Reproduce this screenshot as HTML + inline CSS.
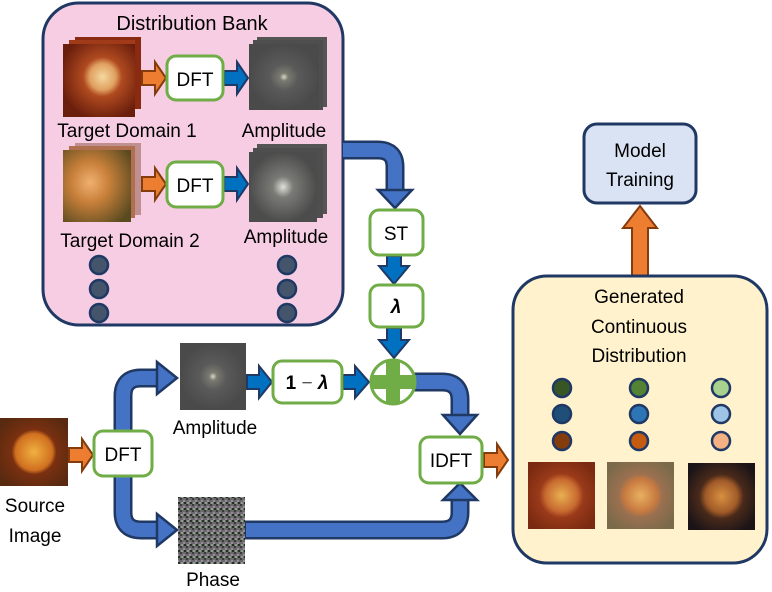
<!DOCTYPE html><html><head><style>body{margin:0;background:#fff}svg{display:block}text{font-family:"Liberation Sans",sans-serif;fill:#000}</style></head><body>
<svg width="772" height="592" viewBox="0 0 772 592" xmlns="http://www.w3.org/2000/svg">
<defs>
<radialGradient id="r1" cx="0.55" cy="0.45" r="0.6"><stop offset="0" stop-color="#f4d9a0"/><stop offset="0.3" stop-color="#e0a060"/><stop offset="0.45" stop-color="#b04a20"/><stop offset="1" stop-color="#6a1e0c"/></radialGradient>
<radialGradient id="r2" cx="0.4" cy="0.45" r="0.7"><stop offset="0" stop-color="#f0b070"/><stop offset="0.4" stop-color="#c8803a"/><stop offset="1" stop-color="#5a4a20"/></radialGradient>
<radialGradient id="src" cx="0.5" cy="0.5" r="0.6"><stop offset="0" stop-color="#f0b040"/><stop offset="0.45" stop-color="#d07020"/><stop offset="0.55" stop-color="#7a3010"/><stop offset="1" stop-color="#5a2a10"/></radialGradient>
<radialGradient id="g1" cx="0.5" cy="0.5" r="0.6"><stop offset="0" stop-color="#e8b050"/><stop offset="0.4" stop-color="#c86a30"/><stop offset="0.55" stop-color="#9a3a1a"/><stop offset="1" stop-color="#7a2a10"/></radialGradient>
<radialGradient id="g2" cx="0.5" cy="0.5" r="0.6"><stop offset="0" stop-color="#e8b060"/><stop offset="0.4" stop-color="#c87a40"/><stop offset="0.55" stop-color="#9a7050"/><stop offset="1" stop-color="#7a6a4a"/></radialGradient>
<radialGradient id="g3" cx="0.5" cy="0.5" r="0.6"><stop offset="0" stop-color="#d89040"/><stop offset="0.4" stop-color="#a05a28"/><stop offset="0.55" stop-color="#4a2a1a"/><stop offset="1" stop-color="#1a1418"/></radialGradient>
<radialGradient id="amp" cx="0.5" cy="0.5" r="0.5"><stop offset="0" stop-color="#d8d8c8"/><stop offset="0.12" stop-color="#7a7a70"/><stop offset="0.4" stop-color="#5a5a5a"/><stop offset="1" stop-color="#4a4a4a"/></radialGradient>
<radialGradient id="amp2" cx="0.5" cy="0.5" r="0.5"><stop offset="0" stop-color="#e0e0d8"/><stop offset="0.3" stop-color="#7a7a76"/><stop offset="1" stop-color="#4c4c4c"/></radialGradient>
<pattern id="noise" width="6" height="6" patternUnits="userSpaceOnUse"><rect width="6" height="6" fill="#6a6a6a"/><rect x="0" y="0" width="2" height="2" fill="#3a3a3a"/><rect x="3" y="2" width="2" height="2" fill="#9a8aa0"/><rect x="1" y="4" width="2" height="2" fill="#8aa08a"/><rect x="4" y="4" width="2" height="2" fill="#2a2a2a"/></pattern>
</defs>

<!-- Distribution bank -->
<rect x="43" y="3" width="300" height="322" rx="36" fill="#f6cde3" stroke="#1f3864" stroke-width="3"/>
<text x="192" y="30" font-size="20" text-anchor="middle">Distribution Bank</text>
<!-- row1 images -->
<rect x="75" y="37" width="66" height="72" fill="#8a2a10"/><rect x="69" y="40" width="66" height="72" fill="#a03a18"/>
<rect x="63" y="44" width="72" height="73" fill="url(#r1)"/>
<rect x="257" y="37" width="70" height="70" fill="#555"/><rect x="253" y="40" width="70" height="70" fill="#4e4e4e"/>
<rect x="249" y="44" width="70" height="66" fill="url(#amp)"/>
<text x="127" y="137" font-size="19" text-anchor="middle">Target Domain 1</text>
<text x="284" y="137" font-size="19" text-anchor="middle">Amplitude</text>
<!-- row2 -->
<rect x="75" y="143" width="66" height="72" fill="#c09090"/><rect x="69" y="146" width="66" height="72" fill="#b07050"/>
<rect x="63" y="150" width="68" height="72" fill="url(#r2)"/>
<rect x="257" y="144" width="70" height="70" fill="#555"/><rect x="253" y="148" width="70" height="70" fill="#4e4e4e"/>
<rect x="249" y="152" width="68" height="70" fill="url(#amp2)"/>
<text x="130" y="247" font-size="19" text-anchor="middle">Target Domain 2</text>
<text x="286" y="243" font-size="19" text-anchor="middle">Amplitude</text>
<g fill="#44546a" stroke="#1f3864" stroke-width="2.5">
<circle cx="99" cy="265" r="9"/><circle cx="99" cy="289" r="9"/><circle cx="99" cy="313" r="9"/>
<circle cx="287" cy="265" r="9"/><circle cx="287" cy="289" r="9"/><circle cx="287" cy="313" r="9"/></g>

<!-- small arrows -->
<g stroke="#843c0c" stroke-width="2" fill="#ed7d31">
<polygon points="142,71 155,71 155,62 166,78 155,94 155,85 142,85"/>
<polygon points="142,177 155,177 155,168 166,184 155,200 155,191 142,191"/>
<polygon points="69,448 82,448 82,439 93,455 82,471 82,462 69,462"/>
<polygon points="484,453 497,453 497,444 508,460 497,476 497,467 484,467"/>
<polygon points="632,276 632,228 623,228 640,206 657,228 648,228 648,276"/>
</g>
<g stroke="#1f3864" stroke-width="2" fill="#0070c0">
<polygon points="224,71 237,71 237,62 248,78 237,94 237,85 224,85"/>
<polygon points="224,177 237,177 237,168 248,184 237,200 237,191 224,191"/>
<polygon points="247,375 259,375 259,366 272,382 259,398 259,389 247,389"/>
<polygon points="343,375 355,375 355,366 369,382 355,398 355,389 343,389"/>
<polygon points="387,256 387,266 379,266 394,284 409,266 401,266 401,256"/>
<polygon points="387,328 387,340 379,340 394,358 409,340 401,340 401,328"/>
</g>

<!-- big pipes -->
<g fill="none" stroke-linecap="butt">
<path d="M343,150 H378 Q395,150 395,167 V190" stroke="#1f3864" stroke-width="19"/>
<path d="M343,150 H378 Q395,150 395,167 V191" stroke="#4472c4" stroke-width="14"/>
<path d="M123,430 V396 Q123,378 141,378 H157" stroke="#1f3864" stroke-width="19"/>
<path d="M123,431 V396 Q123,378 141,378 H158" stroke="#4472c4" stroke-width="14"/>
<path d="M123,476 V512 Q123,530 141,530 H157" stroke="#1f3864" stroke-width="19"/>
<path d="M123,475 V512 Q123,530 141,530 H158" stroke="#4472c4" stroke-width="14"/>
<path d="M244,530 H442 Q460,530 460,512 V500" stroke="#1f3864" stroke-width="19"/>
<path d="M246,530 H442 Q460,530 460,512 V499" stroke="#4472c4" stroke-width="14"/>
<path d="M414,382 H442 Q460,382 460,400 V415" stroke="#1f3864" stroke-width="19"/>
<path d="M414,382 H442 Q460,382 460,400 V416" stroke="#4472c4" stroke-width="14"/>
</g>
<g fill="#4472c4" stroke="#1f3864" stroke-width="2.5" stroke-linejoin="miter">
<polygon points="378,190 412,190 395,208"/>
<polygon points="157,362 157,394 177,378"/>
<polygon points="157,514 157,546 177,530"/>
<polygon points="443,500 477,500 460,483"/>
<polygon points="443,415 477,415 460,434"/>
</g>

<!-- boxes -->
<g fill="#fff" stroke="#70ad47" stroke-width="3">
<rect x="167" y="56" width="56" height="44" rx="9"/>
<rect x="167" y="162" width="56" height="45" rx="9"/>
<rect x="370" y="210" width="53" height="45" rx="9"/>
<rect x="370" y="285" width="53" height="42" rx="9"/>
<rect x="94" y="431" width="58" height="45" rx="9"/>
<rect x="273" y="361" width="69" height="42" rx="9"/>
<rect x="420" y="437" width="62" height="46" rx="9"/>
</g>
<text x="195" y="86" font-size="19" text-anchor="middle">DFT</text>
<text x="195" y="192" font-size="19" text-anchor="middle">DFT</text>
<text x="396" y="240" font-size="19" text-anchor="middle">ST</text>
<text x="396" y="313" font-size="19" text-anchor="middle" font-family="Liberation Serif" font-weight="bold" font-style="italic">λ</text>
<text x="123" y="461" font-size="19" text-anchor="middle">DFT</text>
<text x="307" y="389" font-size="19" text-anchor="middle" font-family="Liberation Serif" font-weight="bold">1 <tspan font-weight="normal" fill="#555">−</tspan> <tspan font-style="italic">λ</tspan></text>
<text x="451" y="467" font-size="19" text-anchor="middle">IDFT</text>

<!-- plus -->
<circle cx="393" cy="382" r="22" fill="#fff" stroke="#70ad47" stroke-width="3"/>
<rect x="386" y="360" width="14" height="44" fill="#70ad47"/>
<rect x="371" y="375" width="44" height="14" fill="#70ad47"/>

<!-- lower images -->
<rect x="0" y="418" width="68" height="68" fill="url(#src)"/>
<text x="35" y="512" font-size="19" text-anchor="middle">Source</text>
<text x="35" y="542" font-size="19" text-anchor="middle">Image</text>
<rect x="180" y="343" width="66" height="67" fill="url(#amp)"/>
<text x="215" y="434" font-size="19" text-anchor="middle">Amplitude</text>
<rect x="178" y="497" width="67" height="67" fill="url(#noise)"/>
<text x="213" y="586" font-size="19" text-anchor="middle">Phase</text>

<!-- generated -->
<rect x="513" y="276" width="254" height="287" rx="34" fill="#fff2cc" stroke="#1f3864" stroke-width="3"/>
<text x="639" y="303" font-size="19" text-anchor="middle">Generated</text>
<text x="639" y="333" font-size="19" text-anchor="middle">Continuous</text>
<text x="639" y="362" font-size="19" text-anchor="middle">Distribution</text>
<g stroke="#1f3864" stroke-width="2.5">
<circle cx="562" cy="388" r="9" fill="#375623"/><circle cx="562" cy="414" r="9" fill="#1f4e79"/><circle cx="562" cy="441" r="9" fill="#843c0c"/>
<circle cx="639" cy="388" r="9" fill="#548235"/><circle cx="639" cy="414" r="9" fill="#2e75b6"/><circle cx="639" cy="441" r="9" fill="#c55a11"/>
<circle cx="721" cy="388" r="9" fill="#a9d18e"/><circle cx="721" cy="414" r="9" fill="#9dc3e6"/><circle cx="721" cy="441" r="9" fill="#f4b183"/>
</g>
<rect x="528" y="462" width="67" height="67" fill="url(#g1)"/>
<rect x="607" y="462" width="67" height="67" fill="url(#g2)"/>
<rect x="688" y="463" width="67" height="67" fill="url(#g3)"/>

<rect x="584" y="124" width="112" height="79" rx="13" fill="#dae3f3" stroke="#1f3864" stroke-width="3"/>
<text x="640" y="157" font-size="19" text-anchor="middle">Model</text>
<text x="640" y="186" font-size="19" text-anchor="middle">Training</text>
</svg></body></html>
